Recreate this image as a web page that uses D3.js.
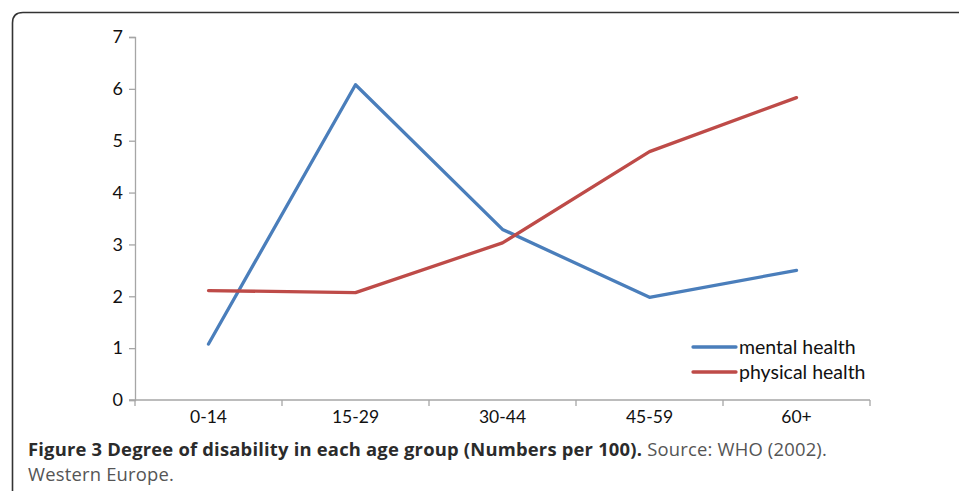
<!DOCTYPE html>
<html>
<head>
<meta charset="utf-8">
<script src="https://cdn.jsdelivr.net/npm/d3@7"></script>
<style>
  body { margin: 0; background: #fff; }
  svg { display: block; }
</style>
</head>
<body>
<div id="chart"></div>
<script>
var ageGroups = ["0-14", "15-29", "30-44", "45-59", "60+"];
var mentalHealth = [1.08, 6.08, 3.29, 1.98, 2.5];
var physicalHealth = [2.11, 2.07, 3.03, 4.79, 5.83];
var yTicks = [0, 1, 2, 3, 4, 5, 6, 7];
var seriesNames = ["mental health", "physical health"];

var W = 959, H = 491;
var svg = d3.select("#chart").append("svg")
  .attr("width", W)
  .attr("height", H);

// figure frame (rounded top-left corner, open at right and bottom)
svg.append("path")
  .attr("d", "M12.5," + H + " L12.5,23 Q12.5,12.5 23,12.5 L" + W + ",12.5")
  .attr("fill", "none")
  .attr("stroke", "#333")
  .attr("stroke-width", 1.6);

var x = d3.scaleBand().domain(ageGroups).range([135, 870]);
var y = d3.scaleLinear().domain([0, 7]).range([400, 37]);

var axisCol = "#a6a6a6";
var font = "Lato, 'Open Sans', sans-serif";

//Y axis
var yAxis = svg.append("g").attr("transform", "translate(135,0)")
  .call(d3.axisLeft(y).tickValues(yTicks).tickSize(6).tickPadding(6).tickFormat(d3.format("d")));
yAxis.select(".domain").attr("stroke", axisCol).attr("stroke-width", 1.3);
yAxis.selectAll(".tick line").attr("stroke", axisCol).attr("stroke-width", 1.3);
yAxis.selectAll("text").attr("font-family", font).attr("font-size", 18).attr("fill", "#111");

//X axis, ticks between categories
var xAxis = svg.append("g").attr("transform", "translate(0,400)");
xAxis.append("line")
  .attr("x1", 129).attr("x2", 870)
  .attr("stroke", axisCol).attr("stroke-width", 1.3);
var edges = ageGroups.map(function(d){ return x(d); }).concat([x.range()[1]]);
xAxis.selectAll(".xt").data(edges).enter().append("line")
  .attr("x1", function(d){ return d; }).attr("x2", function(d){ return d; })
  .attr("y1", 0).attr("y2", 6)
  .attr("stroke", axisCol).attr("stroke-width", 1.3);
xAxis.selectAll(".xl").data(ageGroups).enter().append("text")
  .attr("x", function(d){ return x(d) + x.bandwidth()/2; })
  .attr("y", 23)
  .attr("text-anchor", "middle")
  .attr("font-family", font).attr("font-size", 17.5).attr("fill", "#111")
  .text(function(d){ return d; });

//Lines
var colors = ["#4a7ebb", "#be4b48"];
var line = d3.line()
  .x(function(d, i){ return x(ageGroups[i]) + x.bandwidth()/2; })
  .y(function(d){ return y(d); });

[mentalHealth, physicalHealth].forEach(function(s, i){
  svg.append("path")
    .datum(s)
    .attr("d", line)
    .attr("fill", "none")
    .attr("stroke", colors[i])
    .attr("stroke-width", 3.3)
    .attr("stroke-linejoin", "round")
    .attr("stroke-linecap", "round");
});

//Legend
var leg = svg.append("g").attr("transform", "translate(693,347)");
seriesNames.forEach(function(n, i){
  leg.append("line")
    .attr("x1", 0).attr("x2", 43)
    .attr("y1", i*25).attr("y2", i*25)
    .attr("stroke", colors[i]).attr("stroke-width", 3.3)
    .attr("stroke-linecap", "round");
  leg.append("text")
    .attr("x", 46).attr("y", i*25 + 7)
    .attr("font-family", font).attr("font-size", 19.5).attr("fill", "#111")
    .text(n);
});

//Caption
var cap = svg.append("text")
  .attr("x", 28).attr("y", 456)
  .attr("font-family", "'Open Sans', sans-serif")
  .attr("font-size", 18.4)
  .attr("letter-spacing", 0.2);
cap.append("tspan").attr("font-weight", "bold").attr("fill", "#2b2b2b")
  .text("Figure 3 Degree of disability in each age group (Numbers per 100).");
cap.append("tspan").attr("fill", "#555").text(" Source: WHO (2002).");
svg.append("text")
  .attr("x", 28).attr("y", 481)
  .attr("font-family", "'Open Sans', sans-serif")
  .attr("font-size", 18.4).attr("letter-spacing", 0.2).attr("fill", "#555")
  .text("Western Europe.");
</script>
</body>
</html>
